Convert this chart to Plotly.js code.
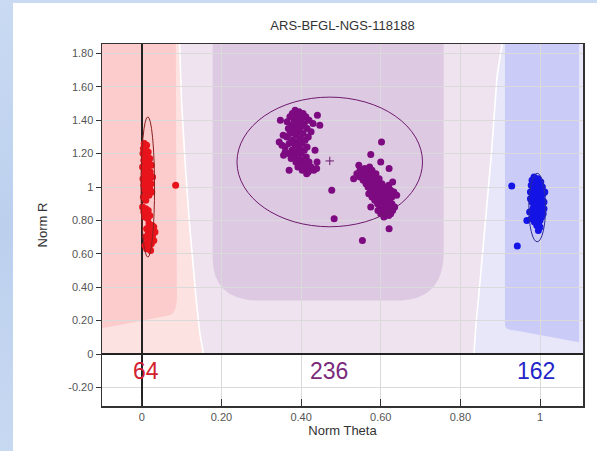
<!DOCTYPE html>
<html>
<head>
<meta charset="utf-8">
<script src="https://cdn.plot.ly/plotly-3.0.1.min.js"></script>
<style>
html,body{margin:0;padding:0;width:597px;height:451px;overflow:hidden;
background:linear-gradient(180deg,#c9daf2 0%,#bcd0ee 50%,#c7d8f1 100%);}
#chart{position:absolute;left:13px;top:3px;width:584px;height:448px;background:#fff;}
</style>
</head>
<body>
<div id="chart"></div>
<script>
// ---- data ----
const titleText = "ARS-BFGL-NGS-118188";
const clusterNames = ["AA", "AB", "BB"];
const clusterCounts = ["64", "236", "162"];
const countX = [0.01, 0.47, 0.99];
const countY = [-0.1, -0.1, -0.1];

const redX = [0.006,0.012,0.004,0.010,0.016,0.003,0.008,0.013,0.020,
  0.005,0.011,0.018,0.024,0.002,0.009,0.015,0.021,0.006,0.012,0.027,0.003,0.018,0.010,0.023,0.005,0.014,0.020,0.008,0.025,0.012,0.018,0.004,
  0.010,
  0.002,0.010,0.016,0.005,0.013,0.020,0.008,0.015,
  0.018,0.026,0.030,0.012,0.022,0.033,0.016,0.027,0.010,0.020,0.030,0.014,0.024,0.008,0.018,0.012,0.022,
  0.085];
const redY = [1.26,1.25,1.23,1.22,1.21,1.20,1.19,1.18,1.17,
  1.16,1.15,1.14,1.13,1.12,1.11,1.10,1.09,1.08,1.07,1.06,1.05,1.04,1.03,1.02,1.01,1.00,0.99,0.98,0.97,0.96,0.95,0.94,
  0.92,
  0.88,0.87,0.86,0.85,0.84,0.83,0.82,0.81,
  0.78,0.77,0.76,0.75,0.74,0.73,0.72,0.71,0.70,0.69,0.68,0.67,0.66,0.65,0.64,0.63,0.62,
  1.01];

const purpleX = [0.385,0.395,0.405,0.378,0.390,0.412,0.372,0.400,0.383,0.420,0.365,0.393,0.408,0.376,0.430,0.386,0.400,0.415,0.368,0.380,
  0.394,0.425,0.372,0.405,0.387,0.418,0.364,0.398,0.378,0.410,0.390,0.370,0.402,0.385,0.415,0.360,0.395,0.377,0.408,0.388,
  0.368,0.400,0.382,0.413,0.356,0.393,0.375,0.405,0.387,0.420,0.398,0.410,0.392,0.425,0.415,0.403,0.432,0.418,
  0.348,0.441,0.447,0.370,0.414,0.439,0.477,0.483,0.352,0.360,0.435,0.440,0.345,0.355,
  0.548,0.560,0.572,0.540,0.555,0.566,0.578,0.548,0.562,0.575,0.588,0.556,0.570,0.583,0.596,0.563,0.577,0.590,0.603,0.568,
  0.582,0.595,0.608,0.620,0.575,0.588,0.600,0.613,0.625,0.570,0.583,0.595,0.608,0.620,0.633,0.578,0.590,0.603,0.615,0.628,
  0.585,0.597,0.610,0.622,0.592,0.604,0.617,0.628,0.598,0.610,0.622,0.635,0.593,0.605,0.618,0.630,0.600,0.612,0.625,0.608,0.620,
  0.602,0.575,0.600,0.621,0.575,0.621,0.554,0.532,0.640,0.545,0.630];
const purpleY = [1.46,1.45,1.44,1.44,1.43,1.42,1.42,1.41,1.40,1.40,1.39,1.39,1.38,1.37,1.38,1.36,1.36,1.35,1.35,1.34,
  1.33,1.33,1.32,1.32,1.31,1.30,1.30,1.29,1.28,1.28,1.27,1.26,1.26,1.25,1.24,1.24,1.23,1.22,1.22,1.21,
  1.20,1.20,1.19,1.18,1.19,1.17,1.17,1.16,1.15,1.15,1.14,1.13,1.12,1.12,1.11,1.10,1.10,1.09,
  1.40,1.43,1.37,1.10,1.08,1.11,0.98,0.81,1.25,1.21,1.22,1.15,1.27,1.31,
  1.10,1.11,1.12,1.08,1.08,1.09,1.10,1.06,1.06,1.07,1.08,1.04,1.04,1.05,1.05,1.02,1.02,1.03,1.02,1.00,
  1.00,1.01,1.00,1.01,0.98,0.98,0.98,0.99,0.98,0.96,0.96,0.96,0.96,0.96,0.97,0.94,0.94,0.94,0.94,0.94,
  0.92,0.92,0.92,0.92,0.90,0.90,0.90,0.90,0.88,0.88,0.88,0.88,0.86,0.86,0.86,0.86,0.84,0.84,0.84,0.82,0.83,
  1.27,1.195,1.15,1.11,0.88,0.75,0.68,1.05,0.95,1.13,1.03];

const blueX = [0.985,0.995,0.980,0.992,1.002,0.978,0.988,0.998,1.006,0.983,0.993,1.003,0.976,0.987,0.997,1.008,0.982,0.992,1.002,0.985,
  0.996,1.006,0.980,0.990,1.000,1.010,0.985,0.995,1.004,0.982,0.992,1.002,0.988,0.998,1.008,0.984,0.994,1.004,0.967,0.978,
  0.990,1.000,0.986,0.996,0.992,1.000,0.996,0.974,0.976,1.012,1.010,
  0.929,0.943];
const blueY = [1.06,1.05,1.04,1.03,1.03,1.01,1.01,1.00,1.00,0.99,0.98,0.98,0.97,0.96,0.96,0.96,0.95,0.94,0.94,0.93,
  0.92,0.92,0.91,0.90,0.90,0.91,0.89,0.88,0.88,0.87,0.86,0.86,0.85,0.84,0.84,0.83,0.82,0.82,0.80,0.81,
  0.80,0.80,0.79,0.78,0.77,0.76,0.74,0.85,0.93,0.97,0.87,
  1.006,0.647];

const centerX = [0.472];
const centerY = [1.156];

// cluster ellipses: center and half-widths
const ellCx = [0.015, 0.472, 0.993];
const ellCy = [1.00, 1.15, 0.877];
const ellRx = [0.017, 0.233, 0.021];
const ellRy = [0.42, 0.388, 0.205];
const ellColors = ["#8a2020", "#6e1a6e", "#2a2a9a"];

const xTickVals = [0, 0.2, 0.4, 0.6, 0.8, 1];
const xTickText = ["0", "0.20", "0.40", "0.60", "0.80", "1"];
const yTickVals = [-0.2, 0, 0.2, 0.4, 0.6, 0.8, 1, 1.2, 1.4, 1.6, 1.8];
const yTickText = ["-0.20", "0", "0.20", "0.40", "0.60", "0.80", "1", "1.20", "1.40", "1.60", "1.80"];

// ---- region boundaries (decision regions) ----
const leftBoundX = [0.155, 0.146, 0.138, 0.130, 0.120, 0.110, 0.100, 0.095, 0.093];
const leftBoundY = [0, 0.12, 0.29, 0.5, 0.77, 1.1, 1.5, 1.85, 2.0];
const rightBoundX = [0.834, 0.840, 0.847, 0.862, 0.878, 0.892, 0.905, 0.908];
const rightBoundY = [0, 0.2, 0.37, 0.77, 1.2, 1.66, 1.86, 2.0];

const leftB = leftBoundX.map((x, i) => x + "," + leftBoundY[i]);
const rightB = rightBoundX.map((x, i) => x + "," + rightBoundY[i]);

const shapes = [];
// light pink (left of left boundary)
shapes.push({type: "path", xref: "x", yref: "y", layer: "below", line: {width: 0},
  fillcolor: "#fde2e2",
  path: "M-0.2,0 L" + leftB.join(" L") + " L-0.2,2 Z"});
// light lavender (between boundaries)
shapes.push({type: "path", xref: "x", yref: "y", layer: "below", line: {width: 0},
  fillcolor: "#eee3ef",
  path: "M" + leftB.join(" L") + " L" + rightB.slice().reverse().join(" L") + " Z"});
// light blue (right of right boundary)
shapes.push({type: "path", xref: "x", yref: "y", layer: "below", line: {width: 0},
  fillcolor: "#e7e7f9",
  path: "M" + rightB.join(" L") + " L1.2,2 L1.2,0 Z"});
// dark red core region
shapes.push({type: "path", xref: "x", yref: "y", layer: "below", line: {width: 0},
  fillcolor: "#fccbcb",
  path: "M-0.2,2 L0.085,2 L0.088,0.34 Q0.088,0.23 0.063,0.23 L0,0.2 L-0.1,0.155 L-0.2,0.13 Z"});
// purple core region
shapes.push({type: "path", xref: "x", yref: "y", layer: "below", line: {width: 0},
  fillcolor: "#ddc9e2",
  path: "M0.178,2 L0.178,0.575 Q0.178,0.32 0.296,0.32 L0.64,0.32 Q0.758,0.32 0.758,0.61 L0.758,2 Z"});
// blue core region
shapes.push({type: "path", xref: "x", yref: "y", layer: "below", line: {width: 0},
  fillcolor: "#cbcbf8",
  path: "M0.912,2 L0.912,0.175 Q0.912,0.144 0.935,0.142 L1.098,0.07 L1.098,2 Z"});
// white separator lines
shapes.push({type: "path", xref: "x", yref: "y", layer: "below", line: {width: 1.6, color: "#ffffff"},
  path: "M" + leftB.join(" L")});
shapes.push({type: "path", xref: "x", yref: "y", layer: "below", line: {width: 1.6, color: "#ffffff"},
  path: "M" + rightB.join(" L")});
// white region below R = 0
shapes.push({type: "rect", xref: "paper", yref: "y", layer: "below", line: {width: 0},
  fillcolor: "#ffffff", x0: 0, x1: 1, y0: -0.5, y1: 0});
// cluster ellipses
for (let i = 0; i < ellCx.length; i++) {
  shapes.push({type: "circle", xref: "x", yref: "y", layer: "above",
    x0: ellCx[i] - ellRx[i], x1: ellCx[i] + ellRx[i],
    y0: ellCy[i] - ellRy[i], y1: ellCy[i] + ellRy[i],
    line: {color: ellColors[i], width: 1}, fillcolor: "rgba(0,0,0,0)"});
}

const traces = [
  {type: "scatter", mode: "markers", x: redX, y: redY, name: clusterNames[0],
   marker: {color: "#e8141c", size: 7}},
  {type: "scatter", mode: "markers", x: purpleX, y: purpleY, name: clusterNames[1],
   marker: {color: "#7d0a80", size: 7}},
  {type: "scatter", mode: "markers", x: blueX, y: blueY, name: clusterNames[2],
   marker: {color: "#1414e6", size: 7}},
  {type: "scatter", mode: "markers", x: centerX, y: centerY, name: "center",
   marker: {symbol: "cross-thin", color: "#6e1a6e", size: 6, line: {color: "#6e1a6e", width: 1}}}
];

const countColors = ["#d4202e", "#7a2a7a", "#2424c8"];
const annotations = clusterCounts.map((t, i) => ({
  x: countX[i], y: countY[i], xref: "x", yref: "y", text: t, showarrow: false,
  font: {family: "Liberation Sans, Arial, sans-serif", size: 23, color: countColors[i]},
  xanchor: "center", yanchor: "middle"
}));

const tickFont = {family: "Liberation Sans, Arial, sans-serif", size: 11, color: "#555"};
const layout = {
  width: 584, height: 448,
  margin: {l: 89, r: 14, t: 41, b: 45},
  paper_bgcolor: "#ffffff", plot_bgcolor: "#ffffff",
  showlegend: false,
  title: {text: titleText, x: 0.5, xref: "paper", y: 1 - 22 / 448, yref: "container",
    yanchor: "middle", font: {family: "Liberation Sans, Arial, sans-serif", size: 13, color: "#333"}},
  xaxis: {range: [-0.1, 1.108], tickvals: xTickVals, ticktext: xTickText, tickfont: tickFont,
    ticks: "inside", ticklen: 7, tickcolor: "#333", showgrid: true, gridcolor: "#dadada",
    zeroline: true, zerolinecolor: "#222", zerolinewidth: 1.5,
    showline: true, linecolor: "#333", linewidth: 1.5, mirror: true,
    title: {text: "Norm Theta", standoff: 4, font: {family: "Liberation Sans, Arial, sans-serif", size: 13, color: "#333"}}},
  yaxis: {range: [-0.311, 1.856], tickvals: yTickVals, ticktext: yTickText, tickfont: tickFont,
    ticks: "outside", ticklen: 5, tickcolor: "#333", showgrid: true, gridcolor: "#dadada",
    zeroline: true, zerolinecolor: "#222", zerolinewidth: 1.5,
    showline: true, linecolor: "#333", linewidth: 1.5, mirror: true,
    title: {text: "Norm R", standoff: 17, font: {family: "Liberation Sans, Arial, sans-serif", size: 13, color: "#333"}}},
  shapes: shapes,
  annotations: annotations
};

Plotly.newPlot("chart", traces, layout, {displayModeBar: false, staticPlot: true});
</script>
</body>
</html>
